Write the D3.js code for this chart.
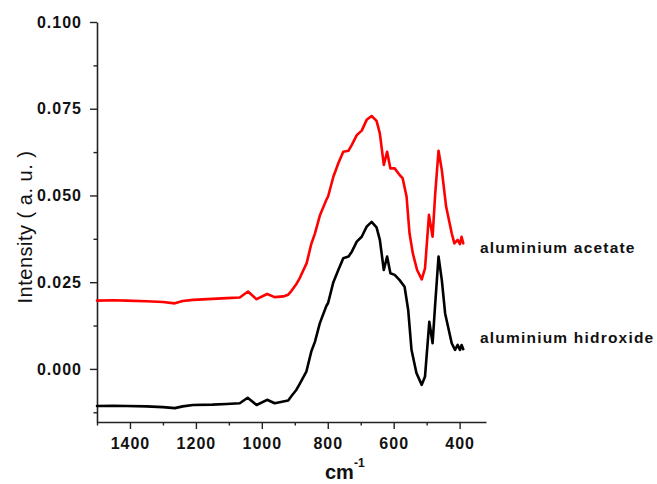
<!DOCTYPE html>
<html>
<head>
<meta charset="utf-8">
<script src="https://cdn.jsdelivr.net/npm/d3@7"></script>
<style>
  html, body { margin: 0; padding: 0; background: #fff; }
  svg { display: block; }
  text { font-family: "Liberation Sans", Arial, Helvetica, sans-serif; fill: #111; }
</style>
</head>
<body>
<svg id="chart" width="657" height="484"></svg>
<script>
// ---- Data ----
const hydroxideWavenumber = [1500, 1450, 1410, 1350, 1300, 1264, 1240, 1209, 1150, 1107, 1067, 1043, 1016, 984, 961, 935, 920, 910, 895, 885, 865, 850, 839, 824, 804, 799, 783, 768, 753, 737, 727, 712, 697, 682, 667, 652, 642, 630, 620, 610, 597, 582, 567, 556, 546, 531, 515, 505, 492, 482, 474, 464, 454, 444, 424, 414, 406, 399, 394, 389];
const hydroxideIntensity = [-0.0107, -0.0106, -0.0107, -0.0108, -0.0110, -0.0113, -0.0108, -0.0104, -0.0103, -0.0101, -0.0099, -0.0083, -0.0104, -0.0089, -0.0099, -0.0094, -0.0091, -0.0078, -0.0060, -0.0043, -0.0008, 0.0050, 0.0078, 0.0132, 0.0182, 0.0190, 0.0250, 0.0285, 0.0319, 0.0324, 0.0338, 0.0367, 0.0381, 0.0410, 0.0424, 0.0408, 0.0372, 0.0285, 0.0324, 0.0276, 0.0271, 0.0256, 0.0237, 0.0170, 0.0055, -0.0012, -0.0046, -0.0022, 0.0136, 0.0074, 0.0189, 0.0324, 0.0256, 0.0160, 0.0074, 0.0055, 0.0069, 0.0055, 0.0069, 0.0057];

const acetateWavenumber = [1500, 1450, 1410, 1350, 1300, 1264, 1240, 1209, 1150, 1107, 1067, 1042, 1016, 984, 961, 935, 920, 910, 895, 885, 864, 850, 839, 824, 804, 799, 783, 768, 753, 737, 727, 712, 697, 682, 667, 652, 642, 630, 620, 610, 597, 582, 573, 561, 552, 542, 529, 515, 505, 493, 482, 474, 464, 454, 441, 424, 416, 406, 399, 394, 389];
const acetateIntensity = [0.0197, 0.0198, 0.0197, 0.0195, 0.0193, 0.0189, 0.0196, 0.0199, 0.0202, 0.0204, 0.0206, 0.0223, 0.0201, 0.0216, 0.0207, 0.0209, 0.0214, 0.0225, 0.0245, 0.0262, 0.0305, 0.0360, 0.0390, 0.0442, 0.0488, 0.0497, 0.0554, 0.0593, 0.0626, 0.0629, 0.0646, 0.0674, 0.0687, 0.0718, 0.0729, 0.0715, 0.0679, 0.0588, 0.0626, 0.0578, 0.0578, 0.0559, 0.0550, 0.0497, 0.0391, 0.0333, 0.0285, 0.0258, 0.0290, 0.0444, 0.0381, 0.0506, 0.0629, 0.0573, 0.0468, 0.0391, 0.0362, 0.0372, 0.0360, 0.0381, 0.0362];

const seriesNames = ["aluminium acetate", "aluminium hidroxide"];
const seriesColors = ["#ff0000", "#000000"];

const xMajorTicks = [1400, 1200, 1000, 800, 600, 400];
const xMinorTicks = [1500, 1300, 1100, 900, 700, 500];
const yMajorTicks = [0.000, 0.025, 0.050, 0.075, 0.100];
const yMinorTicks = [-0.0125, 0.0125, 0.0375, 0.0625, 0.0875];

const xLabel = "cm";
const xLabelSup = "-1";
const yLabel = "Intensity ( a. u. )";

// ---- Layout ----
const svg = d3.select("#chart");
const mLeft = 97, mRight = 486, mTop = 22, mBottom = 422;

const x = d3.scaleLinear().domain([1500, 320]).range([mLeft, mRight]);
const y = d3.scaleLinear().domain([-0.0153, 0.1]).range([mBottom, mTop]);

const axisColor = "#222";
const tickFont = "bold 16px 'Liberation Sans', Arial, sans-serif";

// X axis
const gx = svg.append("g").attr("transform", `translate(0,${mBottom})`);
gx.call(d3.axisBottom(x).tickValues(xMajorTicks).tickSize(7).tickSizeOuter(0).tickPadding(6).tickFormat(d3.format("d")));
gx.append("g").call(d3.axisBottom(x).tickValues(xMinorTicks).tickSize(3.5).tickSizeOuter(0).tickFormat(""))
  .select(".domain").remove();
gx.selectAll(".domain").attr("stroke", axisColor).attr("stroke-width", 1.6);
gx.selectAll(".tick line").attr("stroke", axisColor).attr("stroke-width", 1.4);
gx.selectAll(".tick text").style("font", tickFont).style("letter-spacing", "1px").attr("fill", "#111").attr("dy", "0.9em");

// Y axis
const gy = svg.append("g").attr("transform", `translate(${mLeft},0)`);
gy.call(d3.axisLeft(y).tickValues(yMajorTicks).tickSize(7).tickSizeOuter(0).tickPadding(8).tickFormat(d3.format(".3f")));
gy.append("g").call(d3.axisLeft(y).tickValues(yMinorTicks).tickSize(3.5).tickSizeOuter(0).tickFormat(""))
  .select(".domain").remove();
gy.selectAll(".domain").attr("stroke", axisColor).attr("stroke-width", 1.6);
gy.selectAll(".tick line").attr("stroke", axisColor).attr("stroke-width", 1.4);
gy.selectAll(".tick text").style("font", tickFont).style("letter-spacing", "1px").attr("fill", "#111");

// Lines
const line = d3.line().x(d => x(d[0])).y(d => y(d[1]));
const seriesData = [
  d3.zip(acetateWavenumber, acetateIntensity),
  d3.zip(hydroxideWavenumber, hydroxideIntensity)
];
seriesData.forEach((pts, i) => {
  svg.append("path")
    .datum(pts)
    .attr("fill", "none")
    .attr("stroke", seriesColors[i])
    .attr("stroke-width", 2.6)
    .attr("stroke-linejoin", "round")
    .attr("stroke-linecap", "round")
    .attr("d", line);
});

// Series labels
const labelY = [253, 343];
seriesNames.forEach((name, i) => {
  svg.append("text")
    .attr("x", 480)
    .attr("y", labelY[i])
    .style("font", "bold 15.5px 'Liberation Sans', Arial, sans-serif")
    .style("letter-spacing", "1.2px")
    .attr("fill", "#111")
    .text(name);
});

// X axis label
const xl = svg.append("text")
  .attr("x", 325)
  .attr("y", 479)
  .style("font", "bold 20px 'Liberation Sans', Arial, sans-serif");
xl.append("tspan").text(xLabel);
xl.append("tspan").attr("dy", -12).style("font-size", "12px").text(xLabelSup);

// Y axis label
svg.append("text")
  .attr("transform", `translate(32,${(mBottom + mTop) / 2 + 5}) rotate(-90)`)
  .attr("text-anchor", "middle")
  .style("font", "20px 'Liberation Sans', Arial, sans-serif")
  .style("letter-spacing", "0.5px")
  .text(yLabel);
</script>
</body>
</html>
